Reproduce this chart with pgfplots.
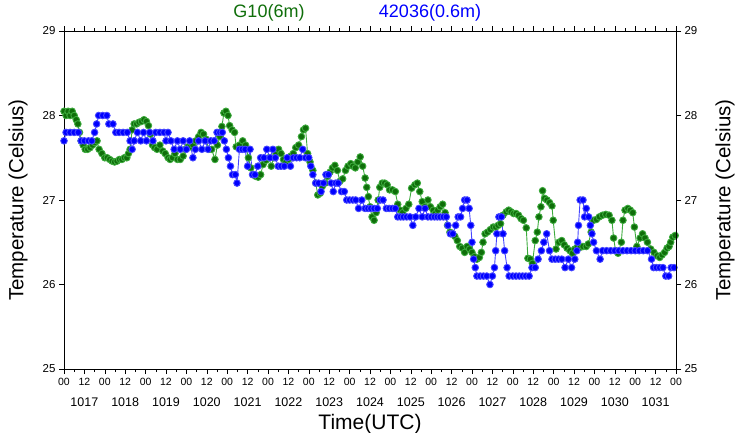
\documentclass[border=0pt]{standalone}
\usepackage{pgfplots}
\pgfplotsset{compat=1.18}
\usepackage{fontspec}
\setmainfont{Liberation Sans}
\definecolor{gmark}{RGB}{15,110,10}
\definecolor{gline}{RGB}{60,170,60}
\definecolor{bmark}{RGB}{0,0,255}
\definecolor{bline}{RGB}{70,70,255}

\begin{document}
\begin{tikzpicture}
\useasboundingbox (-64pt,-63pt) rectangle (679pt,369pt);
\begin{axis}[
  scale only axis, width=612pt, height=338pt,
  xmin=0, xmax=15, ymin=25, ymax=29,
  xtick={0,0.5,...,15},
  xticklabels={00,12,00,12,00,12,00,12,00,12,00,12,00,12,00,12,00,12,00,12,00,12,00,12,00,12,00,12,00,12,00},
  minor x tick num=1,
  ytick={25,26,27,28,29},
  tick align=outside,
  major tick length=5pt, minor tick length=3pt,
  /pgf/number format/assume math mode=true,
  yticklabel style={font=\fontsize{11.5}{12}\selectfont},
  xticklabel style={font=\fontsize{10.5}{11}\selectfont, yshift=-1pt},
  axis line style={line width=0.8pt},
  every tick/.style={black, line width=0.6pt},
]
\addplot[color=gline, line width=0.9pt, mark=*, mark size=3.3pt, mark options={solid, draw=none, fill=gmark}] table {
0.00 28.05
0.05 28.0
0.10 28.05
0.15 28.0
0.20 28.05
0.25 28.0
0.30 27.95
0.34 27.9
0.38 27.8
0.42 27.7
0.47 27.65
0.52 27.6
0.58 27.6
0.64 27.62
0.70 27.65
0.76 27.68
0.81 27.7
0.86 27.6
0.93 27.55
1.00 27.5
1.06 27.5
1.12 27.48
1.18 27.46
1.24 27.45
1.30 27.46
1.36 27.48
1.42 27.48
1.48 27.5
1.54 27.5
1.58 27.55
1.62 27.6
1.67 27.83
1.72 27.9
1.78 27.9
1.84 27.92
1.90 27.93
1.96 27.95
2.02 27.93
2.07 27.88
2.12 27.78
2.17 27.65
2.22 27.62
2.28 27.6
2.35 27.65
2.42 27.58
2.48 27.55
2.55 27.5
2.60 27.48
2.66 27.5
2.72 27.55
2.78 27.48
2.85 27.48
2.92 27.52
2.98 27.6
3.04 27.63
3.10 27.63
3.16 27.65
3.23 27.7
3.30 27.75
3.36 27.8
3.42 27.78
3.48 27.72
3.55 27.6
3.62 27.6
3.70 27.48
3.76 27.65
3.82 27.75
3.87 27.87
3.92 28.03
3.97 28.05
4.02 28.0
4.06 27.88
4.12 27.83
4.18 27.8
4.22 27.63
4.30 27.65
4.38 27.7
4.45 27.65
4.52 27.5
4.58 27.38
4.64 27.3
4.70 27.28
4.76 27.27
4.82 27.3
4.88 27.42
4.95 27.47
5.02 27.5
5.08 27.4
5.14 27.5
5.20 27.55
5.26 27.6
5.32 27.55
5.38 27.48
5.44 27.45
5.50 27.48
5.56 27.52
5.62 27.55
5.68 27.62
5.75 27.65
5.82 27.75
5.87 27.83
5.92 27.85
5.97 27.55
6.03 27.45
6.10 27.35
6.17 27.2
6.22 27.06
6.28 27.08
6.33 27.16
6.40 27.2
6.46 27.28
6.52 27.33
6.58 27.38
6.64 27.41
6.70 27.35
6.76 27.22
6.83 27.25
6.90 27.35
6.96 27.4
7.03 27.43
7.08 27.4
7.14 27.38
7.20 27.45
7.26 27.51
7.32 27.4
7.38 27.26
7.42 27.15
7.46 27.04
7.50 26.92
7.55 26.8
7.60 26.76
7.65 26.85
7.70 27.0
7.74 27.15
7.80 27.2
7.86 27.2
7.92 27.18
7.98 27.12
8.05 27.12
8.12 27.1
8.18 26.95
8.24 26.88
8.30 26.85
8.38 26.9
8.45 26.95
8.52 27.14
8.60 27.18
8.66 27.2
8.72 27.1
8.78 26.98
8.84 26.92
8.92 27.0
8.98 26.92
9.05 26.88
9.10 26.84
9.16 26.88
9.22 26.92
9.28 26.95
9.34 26.85
9.40 26.7
9.46 26.62
9.52 26.6
9.58 26.57
9.64 26.52
9.70 26.45
9.76 26.43
9.82 26.38
9.88 26.45
9.94 26.42
10.00 26.38
10.06 26.33
10.12 26.3
10.18 26.32
10.23 26.38
10.27 26.5
10.32 26.6
10.38 26.62
10.45 26.65
10.52 26.68
10.58 26.68
10.64 26.7
10.70 26.72
10.76 26.82
10.84 26.86
10.90 26.88
10.96 26.86
11.02 26.84
11.08 26.84
11.14 26.82
11.20 26.78
11.26 26.76
11.33 26.67
11.37 26.31
11.43 26.3
11.48 26.25
11.55 26.52
11.60 26.62
11.64 26.8
11.69 26.92
11.73 27.11
11.78 27.02
11.84 27.0
11.90 26.97
11.96 26.93
11.99 26.76
12.06 26.42
12.13 26.5
12.20 26.52
12.26 26.47
12.33 26.43
12.40 26.4
12.46 26.37
12.52 26.42
12.58 26.44
12.65 26.44
12.72 26.45
12.80 26.45
12.85 26.48
12.92 26.62
12.98 26.76
13.05 26.77
13.12 26.8
13.20 26.82
13.28 26.83
13.36 26.82
13.43 26.76
13.47 26.55
13.52 26.4
13.58 26.37
13.66 26.5
13.70 26.76
13.75 26.88
13.82 26.9
13.88 26.88
13.94 26.85
13.98 26.68
14.04 26.45
14.12 26.55
14.18 26.6
14.24 26.55
14.30 26.5
14.38 26.42
14.46 26.38
14.54 26.34
14.60 26.32
14.66 26.35
14.72 26.38
14.78 26.43
14.83 26.45
14.87 26.5
14.92 26.56
14.98 26.58
};
\addplot[color=bline, line width=0.9pt, mark=*, mark size=3.3pt, mark options={solid, draw=none, fill=bmark}] table {
0.00 27.7
0.05 27.8
0.15 27.8
0.25 27.8
0.35 27.8
0.42 27.7
0.50 27.7
0.60 27.7
0.68 27.7
0.75 27.8
0.80 27.9
0.85 28.0
0.95 28.0
1.05 28.0
1.10 27.9
1.20 27.9
1.27 27.8
1.35 27.8
1.45 27.8
1.55 27.8
1.62 27.7
1.67 27.6
1.72 27.7
1.80 27.8
1.88 27.7
1.95 27.8
2.02 27.7
2.10 27.8
2.18 27.7
2.25 27.8
2.35 27.8
2.45 27.8
2.50 27.7
2.55 27.8
2.62 27.7
2.70 27.6
2.78 27.7
2.85 27.6
2.92 27.7
3.00 27.6
3.08 27.7
3.16 27.5
3.22 27.6
3.30 27.7
3.38 27.6
3.46 27.7
3.53 27.6
3.60 27.7
3.68 27.7
3.75 27.8
3.82 27.8
3.88 27.8
3.93 27.7
3.98 27.6
4.03 27.5
4.08 27.4
4.13 27.3
4.20 27.3
4.24 27.2
4.30 27.6
4.37 27.6
4.44 27.6
4.50 27.4
4.56 27.6
4.62 27.3
4.68 27.3
4.75 27.4
4.82 27.5
4.90 27.5
4.97 27.6
5.05 27.5
5.12 27.6
5.18 27.5
5.25 27.4
5.32 27.4
5.40 27.4
5.47 27.5
5.55 27.4
5.62 27.5
5.70 27.5
5.78 27.5
5.85 27.6
5.92 27.5
6.00 27.5
6.05 27.4
6.10 27.3
6.17 27.2
6.24 27.2
6.30 27.1
6.36 27.2
6.42 27.3
6.48 27.3
6.55 27.2
6.60 27.1
6.66 27.2
6.72 27.2
6.80 27.1
6.87 27.1
6.93 27.0
7.00 27.0
7.08 27.0
7.15 27.0
7.22 26.9
7.30 27.0
7.38 26.9
7.45 26.9
7.52 26.9
7.60 26.9
7.68 26.9
7.75 27.0
7.82 27.0
7.90 26.9
7.97 26.9
8.05 26.9
8.12 26.9
8.18 26.8
8.25 26.8
8.32 26.8
8.40 26.8
8.48 26.8
8.55 26.7
8.62 26.8
8.70 26.9
8.78 26.8
8.85 26.9
8.92 26.8
9.00 26.8
9.08 26.8
9.15 26.8
9.22 26.8
9.30 26.8
9.37 26.8
9.41 26.7
9.47 26.6
9.53 26.6
9.60 26.7
9.66 26.8
9.72 26.8
9.77 26.9
9.82 27.0
9.88 27.0
9.93 26.9
9.97 26.7
10.00 26.5
10.04 26.3
10.08 26.2
10.12 26.1
10.20 26.1
10.28 26.1
10.36 26.1
10.44 26.0
10.50 26.1
10.55 26.2
10.58 26.4
10.61 26.6
10.66 26.8
10.72 26.8
10.76 26.6
10.80 26.4
10.86 26.2
10.91 26.1
11.00 26.1
11.08 26.1
11.16 26.1
11.24 26.1
11.32 26.1
11.40 26.1
11.47 26.2
11.55 26.2
11.62 26.3
11.70 26.4
11.76 26.5
11.83 26.6
11.90 26.4
11.96 26.3
12.04 26.3
12.12 26.3
12.20 26.3
12.28 26.2
12.36 26.3
12.44 26.2
12.52 26.3
12.57 26.4
12.59 26.5
12.61 26.7
12.65 27.0
12.72 27.0
12.76 26.8
12.80 26.9
12.86 26.8
12.90 26.7
12.94 26.6
12.98 26.5
13.05 26.4
13.14 26.3
13.20 26.4
13.30 26.4
13.40 26.4
13.50 26.4
13.60 26.4
13.70 26.4
13.80 26.4
13.90 26.4
14.00 26.4
14.10 26.4
14.20 26.4
14.30 26.4
14.40 26.3
14.45 26.2
14.52 26.2
14.60 26.2
14.68 26.2
14.75 26.1
14.82 26.1
14.88 26.2
14.95 26.2
};
\end{axis}
\begin{axis}[
  scale only axis, width=612pt, height=338pt,
  xmin=0, xmax=15, ymin=25, ymax=29,
  axis x line=none, axis y line*=right,
  ytick={25,26,27,28,29},
  tick align=outside, major tick length=5pt,
  /pgf/number format/assume math mode=true,
  yticklabel style={font=\fontsize{11.5}{12}\selectfont},
  axis line style={line width=0.8pt, -},
  every tick/.style={black, line width=0.6pt},
]
\addplot[draw=none] coordinates {(0,25)};
\end{axis}
\foreach \d [count=\i from 0] in {1017,1018,1019,1020,1021,1022,1023,1024,1025,1026,1027,1028,1029,1030,1031} {
  \node[font=\fontsize{12.5}{13}\selectfont, inner sep=0pt] at ({(\i+0.5)*40.8pt}, -33pt) {\d};
}
\node[rotate=90, font=\fontsize{20.5}{22}\selectfont] at (-46pt,169pt) {Temperature (Celsius)};
\node[rotate=90, font=\fontsize{20.5}{22}\selectfont] at (661pt,169pt) {Temperature (Celsius)};
\node[anchor=base, font=\fontsize{21}{23}\selectfont] at (306pt,-60pt) {Time(UTC)};
\node[anchor=base, text=gmark, font=\fontsize{18}{20}\selectfont] at (205pt,351pt) {G10(6m)};
\node[anchor=base, text=bmark, font=\fontsize{18}{20}\selectfont] at (366pt,351pt) {42036(0.6m)};
\end{tikzpicture}
\end{document}
